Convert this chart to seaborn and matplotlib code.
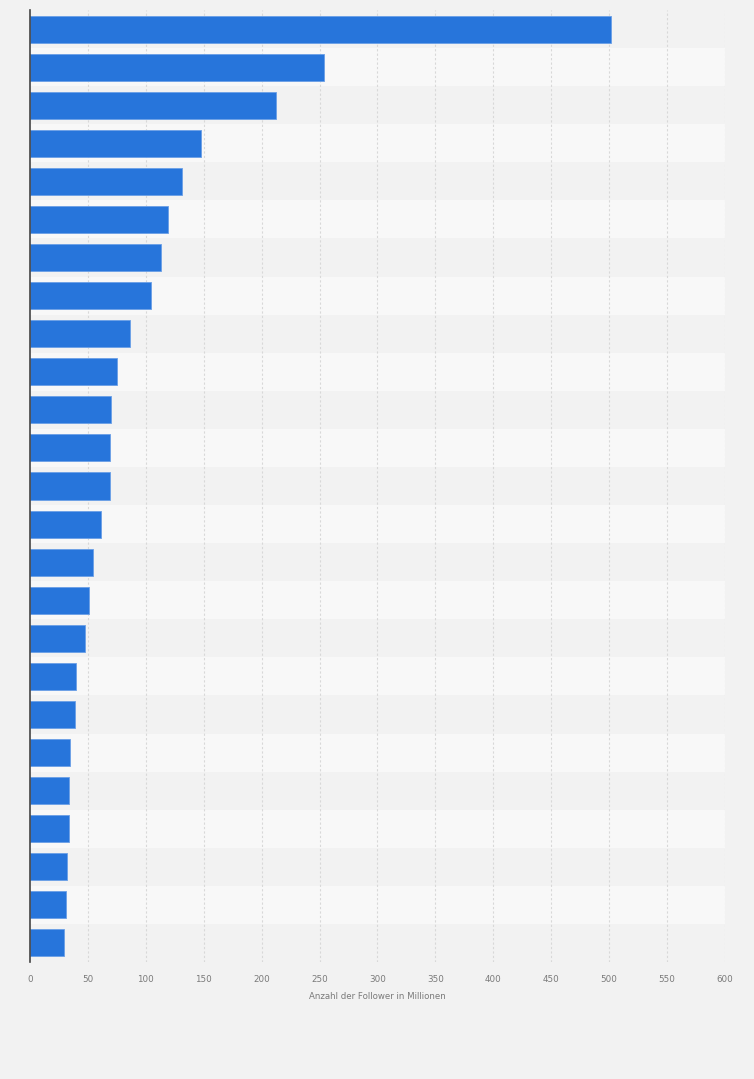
import matplotlib
matplotlib.use("Agg")
import matplotlib.pyplot as plt
import seaborn as sns
import pandas as pd

ranks = [str(i) for i in range(1, 26)]
followers = [502, 254, 212.5, 148, 131.5, 119.5, 113.5, 104.5, 86.7, 75.2,
             70, 69.1, 69.1, 61.4, 54.5, 51, 47.6, 39.8, 39, 34.7,
             33.9, 33.9, 32.1, 31.2, 29.5]
xticks = [0, 50, 100, 150, 200, 250, 300, 350, 400, 450, 500, 550, 600]
xlabel = "Anzahl der Follower in Millionen"

df = pd.DataFrame({"rank": ranks, "followers": followers})

sns.set_theme(style="white")
plt.rcParams["font.family"] = ["DejaVu Sans"]

fig = plt.figure(figsize=(7.54, 10.79), dpi=100, facecolor="#f2f2f2")
ax = fig.add_axes([30 / 754, 1 - 962 / 1079, 695 / 754, 952 / 1079])
ax.set_facecolor("#f2f2f2")

for i in range(len(ranks)):
    ax.axhspan(i - 0.5, i + 0.5, color="#f2f2f2" if i % 2 == 0 else "#f8f8f8",
               zorder=0, lw=0)

sns.barplot(data=df, x="followers", y="rank", orient="h", color="#2775db",
            saturation=1, width=0.71, edgecolor="#6a9fe6", linewidth=0.6,
            ax=ax, zorder=3)

ax.set_xlim(0, 600)
ax.set_ylim(len(ranks) - 0.5, -0.5)
ax.set_xticks(xticks)
ax.set_xticklabels([str(t) for t in xticks], fontsize=6.3, color="#7a7a7a")
ax.tick_params(axis="x", length=0, pad=9)
ax.set_yticks([])
ax.set_ylabel("")
ax.set_xlabel(xlabel, fontsize=6.2, color="#7a7a7a", labelpad=6)

for t in xticks[1:]:
    ax.axvline(t, color="#d8d8d8", lw=0.8, ls=(0, (2, 2)), zorder=1)

for s in ["top", "right", "bottom"]:
    ax.spines[s].set_visible(False)
ax.spines["left"].set_color("#444444")
ax.spines["left"].set_linewidth(1.2)
ax.spines["left"].set_zorder(5)

fig.savefig("out.png", dpi=100, facecolor=fig.get_facecolor())
